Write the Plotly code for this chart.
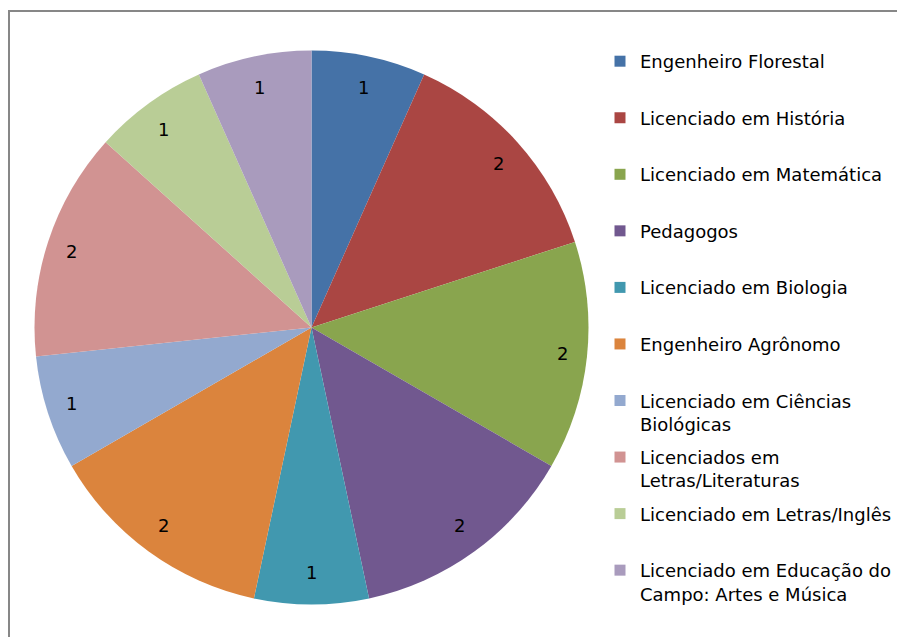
import math
import plotly.graph_objects as go

# ---- data ----
categories = [
    "Engenheiro Florestal",
    "Licenciado em História",
    "Licenciado em Matemática",
    "Pedagogos",
    "Licenciado em Biologia",
    "Engenheiro Agrônomo",
    "Licenciado em Ciências Biológicas",
    "Licenciados em Letras/Literaturas",
    "Licenciado em Letras/Inglês",
    "Licenciado em Educação do Campo: Artes e Música",
]
legend_labels = [
    "Engenheiro Florestal",
    "Licenciado em História",
    "Licenciado em Matemática",
    "Pedagogos",
    "Licenciado em Biologia",
    "Engenheiro Agrônomo",
    "Licenciado em Ciências<br>Biológicas",
    "Licenciados em<br>Letras/Literaturas",
    "Licenciado em Letras/Inglês",
    "Licenciado em Educação do<br>Campo: Artes e Música",
]
values = [1, 2, 2, 2, 1, 2, 1, 2, 1, 1]
colors = ["#4572A7", "#AA4643", "#89A54E", "#71588F", "#4198AF",
          "#DB843D", "#93A9CF", "#D19392", "#B9CD96", "#A99BBD"]

W, H = 905, 637
FONT = "DejaVu Sans"
FS = 18
OFF = 8  # page body margin compensation

# pie geometry (pixels, figure coordinates)
cx, cy, R = 311.5 - OFF, 327.5 - OFF, 277
dom_x = [(cx - R) / W, (cx + R) / W]
dom_y = [(H - cy - R) / H, (H - cy + R) / H]

fig = go.Figure()
fig.add_trace(go.Pie(
    labels=categories,
    values=values,
    sort=False,
    direction="clockwise",
    rotation=0,
    marker=dict(colors=colors, line=dict(width=0)),
    textinfo="none",
    hoverinfo="label+value",
    showlegend=False,
    domain=dict(x=dom_x, y=dom_y),
))

# legend entries (one per category, same colours)
for lab, col in zip(legend_labels, colors):
    name = lab if "<br>" in lab else lab + "<br> "
    fig.add_trace(go.Scatter(
        x=[None], y=[None], mode="markers", name=name,
        legendgroup=lab,
        marker=dict(symbol="square", size=11, color=col, line=dict(width=0)),
        hoverinfo="skip",
    ))

# data labels computed from the values
total = sum(values)
annotations = []
cum = 0
for v in values:
    mid = (cum + v / 2) / total * 2 * math.pi
    cum += v
    px = cx + 252 * math.sin(mid)
    py = cy - 245 * math.cos(mid)
    annotations.append(dict(
        x=px / W, y=1 - py / H, xref="paper", yref="paper",
        text=str(v), showarrow=False, xanchor="center", yanchor="middle",
        font=dict(family=FONT, size=FS, color="#000000"),
    ))

fig.update_layout(
    width=W, height=H,
    margin=dict(l=0, r=0, t=0, b=0),
    paper_bgcolor="white", plot_bgcolor="white",
    xaxis=dict(visible=False), yaxis=dict(visible=False),
    annotations=annotations,
    legend=dict(
        x=(600 - OFF) / W, xanchor="left", y=1 - 35 / H, yanchor="top",
        valign="top", traceorder="grouped", tracegroupgap=6.75,
        font=dict(family=FONT, size=FS, color="#000000"),
        bgcolor="rgba(0,0,0,0)", itemclick=False, itemdoubleclick=False,
    ),
    shapes=[dict(type="rect", xref="paper", yref="paper",
                 x0=1 / W, x1=1.02, y0=-0.02, y1=1 - 3 / H,
                 line=dict(color="#878787", width=2))],
    showlegend=True,
)

fig.write_html("out.html")
